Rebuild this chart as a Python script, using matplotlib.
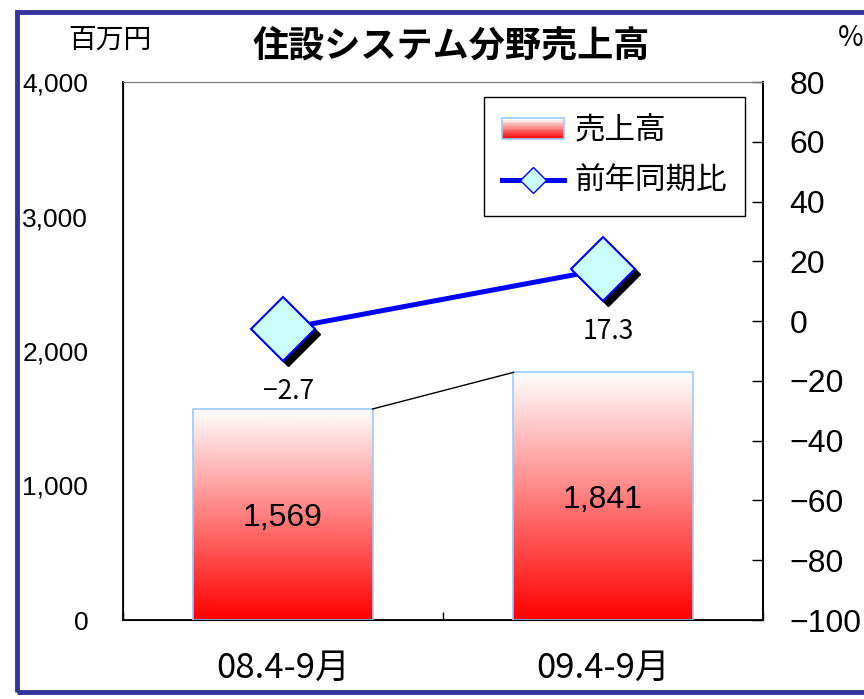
import matplotlib.pyplot as plt
import matplotlib.patches as mpatches
from matplotlib.legend_handler import HandlerBase
from matplotlib.lines import Line2D
import matplotlib.transforms as mtransforms
import numpy as np

plt.rcParams['font.family'] = ['Noto Sans CJK JP', 'DejaVu Sans']
NUM_FONT = ['Liberation Sans', 'DejaVu Sans']

categories = ['08.4-9月', '09.4-9月']
sales = [1569, 1841]
yoy = [-2.7, 17.3]
sales_labels = ['1,569', '1,841']
yoy_labels = ['\u22122.7', '17.3']
left_ticks = [0, 1000, 2000, 3000, 4000]
left_tick_labels = ['0', '1,000', '2,000', '3,000', '4,000']
right_ticks = [-100, -80, -60, -40, -20, 0, 20, 40, 60, 80]

fig = plt.figure(figsize=(8.64, 6.99), dpi=100)
ax = fig.add_axes([123/864, 1 - 620/699, 640/864, 538/699])
ax2 = ax.twinx()

# outer navy frame
fig.patches.append(mpatches.Rectangle((17/864, 7/699), 1.0, 680/699, transform=fig.transFigure,
                                      fill=False, edgecolor='#333399', linewidth=3.5))

x = np.arange(len(categories))
w = 0.56
ax.set_xlim(-0.5, 1.5)
ax.set_ylim(0, 4000)

# gradient bars
grad = np.linspace(0, 1, 256).reshape(-1, 1)
cmap = plt.matplotlib.colors.LinearSegmentedColormap.from_list('wr', ['#ff0000', '#ffffff'])
bars = ax.bar(x, sales, width=w, facecolor='none', edgecolor='#99ccff', linewidth=1.2, zorder=3)
for b in bars:
    x0, y0 = b.get_x(), b.get_y()
    im = ax.imshow(grad, cmap=cmap, aspect='auto', origin='lower',
                   extent=[x0, x0 + b.get_width(), y0, y0 + b.get_height()], zorder=2)
    im.set_clip_path(b)
for xi, v, lab in zip(x, sales, sales_labels):
    ax.text(xi, v / 2, lab, ha='center', va='center_baseline', fontsize=23, family=NUM_FONT, zorder=5)

# series line between bars
ax.plot([x[0] + w / 2, x[1] - w / 2], [sales[0], sales[1]], color='black', linewidth=1, zorder=4)

ax.set_xlim(-0.5, 1.5)
ax.set_xticks(x)
ax.set_xticklabels(categories, fontsize=25)
ax.set_xticks([-0.5, 0.5, 1.5], minor=True)
ax.tick_params(axis='x', which='major', length=0, pad=22)
ax.tick_params(axis='x', which='minor', direction='in', length=6, width=1)
ax.set_yticks(left_ticks)
ax.set_yticklabels(left_tick_labels, fontsize=19, family=NUM_FONT)
ax.tick_params(axis='y', length=0, pad=25)
ax.spines['top'].set_color('#808080')
for s in ['left', 'right', 'bottom']:
    ax.spines[s].set_linewidth(1.3)

# yoy line on right axis
ax2.set_ylim(-100, 80)
ax2.set_yticks(right_ticks)
ax2.set_yticklabels([str(t).replace('-', '\u2212') for t in right_ticks], fontsize=23, family=NUM_FONT)
ax2.tick_params(axis='y', direction='in', length=8, width=1, pad=19)
ax2.spines['right'].set_linewidth(1.3)
ax2.spines['top'].set_color('#808080')
shadow = mtransforms.offset_copy(ax2.transData, fig=fig, x=5, y=-5, units='dots')
ax2.plot(x, yoy, linestyle='none', marker='D', markersize=33, color='black', transform=shadow, zorder=3)
ax2.plot(x, yoy, color='#0000ff', linewidth=3.6, marker='D', markersize=33,
         markerfacecolor='#ccffff', markeredgecolor='#0000ff', markeredgewidth=1.5, zorder=4)
for xi, v, lab in zip(x, yoy, yoy_labels):
    ax2.annotate(lab, (xi, v), xytext=(4, -45), textcoords='offset points',
                 ha='center', va='center', fontsize=19)

ax.set_zorder(ax2.get_zorder() - 1)
ax2.patch.set_visible(False)


class GradientHandler(HandlerBase):
    def create_artists(self, legend, orig_handle, xdescent, ydescent, width, height, fontsize, trans):
        arts = []
        n = 12
        for i in range(n):
            c = cmap(i / (n - 1))
            r = mpatches.Rectangle((-xdescent, -ydescent + height * i / n), width, height / n + 0.3,
                                   facecolor=c, edgecolor='none', transform=trans)
            arts.append(r)
        arts.append(mpatches.Rectangle((-xdescent, -ydescent), width, height, facecolor='none',
                                       edgecolor='#99ccff', linewidth=1.2, transform=trans))
        return arts


bar_handle = mpatches.Rectangle((0, 0), 1, 1)
line_handle = Line2D([], [], color='#0000ff', linewidth=3.6, marker='D', markersize=13,
                     markerfacecolor='#ccffff', markeredgecolor='#0000ff')
leg = ax2.legend([bar_handle, line_handle], ['売上高', '前年同期比'], loc='upper right',
                 bbox_to_anchor=(0.972, 0.972), borderaxespad=0, fontsize=22, fancybox=False,
                 edgecolor='black', framealpha=1, handlelength=2.0, handletextpad=0.35,
                 borderpad=0.6, labelspacing=0.65,
                 handler_map={mpatches.Rectangle: GradientHandler()})
leg.get_frame().set_linewidth(1.0)

fig.text(451/864, 1 - 46/699, '住設システム分野売上高', ha='center', va='center', fontsize=26, fontweight='bold')
fig.text(110/864, 1 - 40/699, '百万円', ha='center', va='center', fontsize=20)
fig.text(838/864, 1 - 38/699, '%', ha='left', va='center', fontsize=20)

fig.savefig('out.png', dpi=100)
